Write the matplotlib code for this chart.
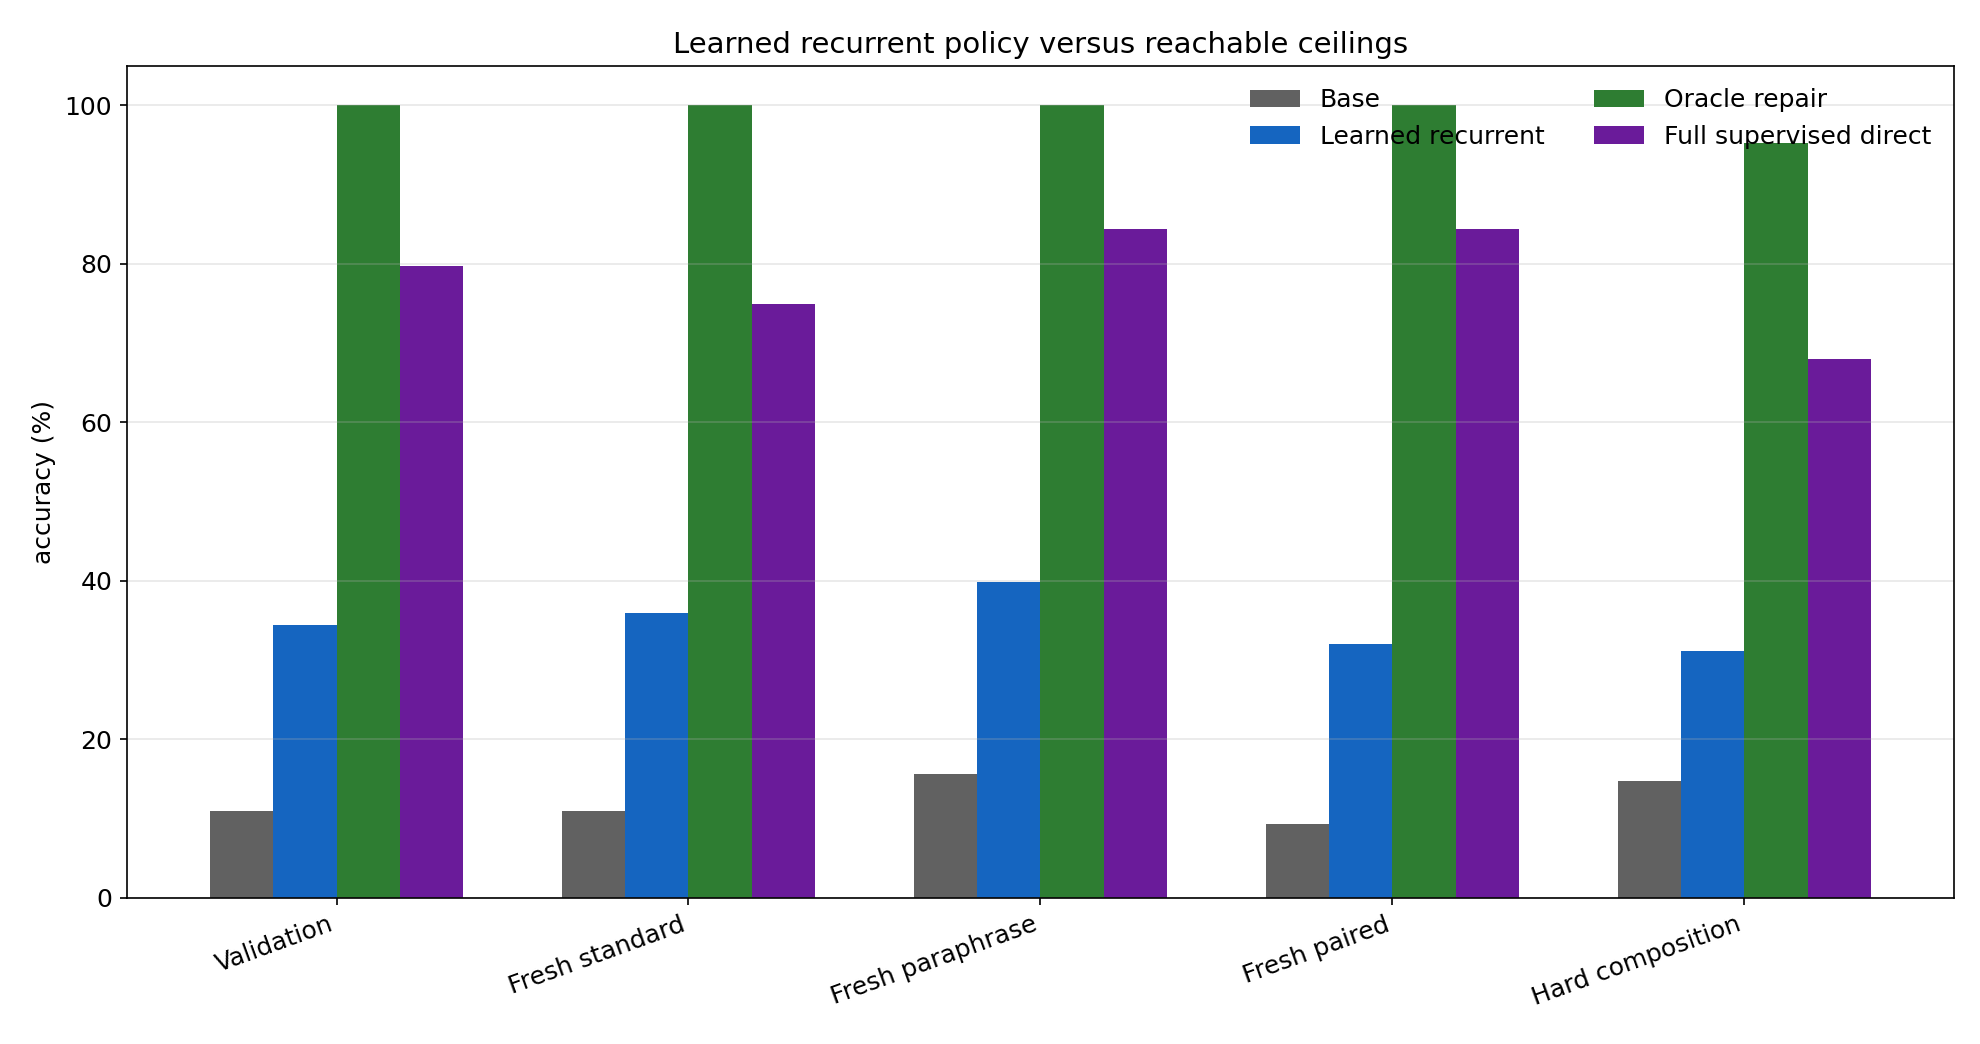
import numpy as np
import matplotlib
matplotlib.use("Agg")
import matplotlib.pyplot as plt

categories = ["Validation", "Fresh standard", "Fresh paraphrase", "Fresh paired", "Hard composition"]
series_names = ["Base", "Learned recurrent", "Oracle repair", "Full supervised direct"]
base = [10.9, 10.9, 15.6, 9.3, 14.8]
learned = [34.4, 35.9, 39.8, 32.0, 31.2]
oracle = [100.0, 100.0, 100.0, 100.0, 95.3]
full_direct = [79.7, 75.0, 84.4, 84.4, 68.0]
colors = ["#616161", "#1565C0", "#2E7D32", "#6A1B9A"]

x = np.arange(len(categories))
width = 0.18

fig, ax = plt.subplots(figsize=(13.2, 6.96), dpi=150)
for i, (vals, name) in enumerate(zip([base, learned, oracle, full_direct], series_names)):
    ax.bar(x + (i - 1.5) * width, vals, width, label=name, color=colors[i])

ax.set_xticks(x)
ax.set_xticklabels(categories, rotation=20, ha="right", fontsize=12)
ax.tick_params(axis="y", labelsize=12)
ax.set_ylabel("accuracy (%)", fontsize=12)
ax.set_title("Learned recurrent policy versus reachable ceilings", fontsize=14)
ax.grid(axis="y", alpha=0.3)
ax.legend(ncol=2, frameon=False, loc="upper right", fontsize=12)

fig.subplots_adjust(left=0.064, right=0.987, top=0.937, bottom=0.140)
plt.savefig("out.png")
